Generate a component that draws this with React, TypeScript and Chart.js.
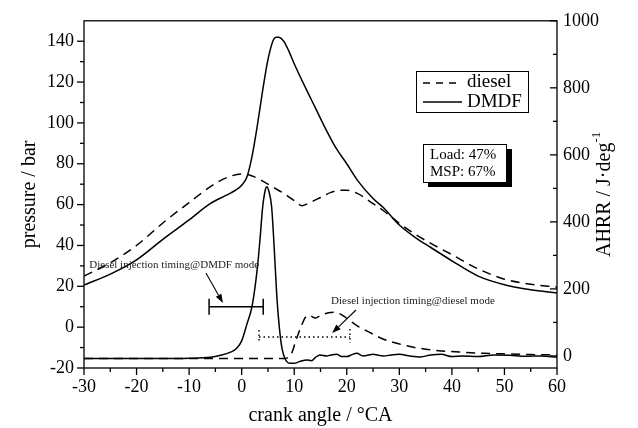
import React, { useEffect, useRef } from "react";
import { Chart, registerables } from "chart.js";

Chart.register(...registerables);

const SERIF = "'Liberation Serif', 'Times New Roman', serif";

// ---- tick labels ----
const xTicks = [-30, -20, -10, 0, 10, 20, 30, 40, 50, 60];
const pressureTicks = [-20, 0, 20, 40, 60, 80, 100, 120, 140];
const ahrrTicks = [0, 200, 400, 600, 800, 1000];

// ---- series labels ----
const seriesLabels = ["diesel", "DMDF"];
const conditionLines = ["Load: 47%", "MSP: 67%"];

// ---- cylinder pressure (bar) ----
const dieselPressureCA = [-30, -25, -20, -15, -10, -5, -2, 0, 2, 4, 6, 8, 10, 11.5, 13, 15, 17, 19, 20, 22, 25, 27, 30, 33, 36, 40, 45, 50, 55, 60];
const dieselPressure = [25, 31.5, 40, 51, 61, 70.4, 74, 75, 74, 71.5, 68.5, 65.5, 62, 59.5, 61, 63.5, 66, 67, 67, 65.5, 60.5, 57, 50.8, 45.5, 41, 35.5, 28.5, 23.5, 21, 19.6];

const dmdfPressureCA = [-30, -25, -20, -15, -10, -6, -3, -1, 0, 1, 2, 3, 4, 5, 6, 6.5, 7, 8, 9, 10, 12, 14, 16, 18, 20, 22, 25, 27, 30, 33, 36, 40, 45, 50, 55, 60];
const dmdfPressure = [20.6, 26, 33, 43, 52.5, 60.5, 64.5, 67.3, 69.5, 73.5, 84, 99, 116, 131, 140.5, 142, 142, 140, 135, 129, 118, 107.5, 97, 87.5, 80, 72, 63, 58.5, 50, 44, 39, 32.5, 25, 20.8, 18.3, 16.7];

// ---- apparent heat release rate (J/deg) ----
const dieselAhrrCA = [-30, -20, -10, 0, 5, 8, 8.7, 9.5, 10.2, 10.8, 11.5, 12, 12.6, 13.3, 14, 14.7, 15.5, 16.5, 17.5, 18.5, 19.5, 20.5, 22, 23.5, 25, 27, 29, 32, 35, 38, 42, 46, 50, 55, 60];
const dieselAhrr = [-8, -8, -8, -8, -8, -8, -6, 8, 40, 67, 95, 112, 121, 118, 113, 118, 124, 129, 130, 127, 118, 106, 90, 77, 65, 50, 40, 28, 20, 15, 11, 8, 6, 4, 3];

const dmdfAhrrCA = [-30, -25, -20, -15, -10, -6, -4, -2, -1, 0, 1, 2, 3, 3.5, 4, 4.5, 4.8, 5.2, 5.7, 6.2, 6.7, 7.2, 7.7, 8.3, 9.2, 10, 11, 12.4, 13.3, 14, 14.9, 16.2, 17, 18.1, 19, 20, 21, 21.9, 23.1, 24, 25, 26, 27, 28.5, 30, 32, 34, 36, 38, 40, 42, 45, 48, 51, 54, 57, 60];
const dmdfAhrr = [-8, -8, -8, -8, -7, -4, 2, 12, 22, 45, 95, 150, 265, 350, 445, 495, 505, 490, 445, 320, 175, 80, 20, -10, -22, -22, -17, -12, -14, -5, 3, 0, 3, 5, -2, -2, 4, 8, 0, 2, 5, 2, 0, 3, 5, 0, -3, 3, 5, -2, 0, -2, 3, 2, -1, 0, -4];

// ---- injection timing annotations (crank angle, pressure level) ----
const annotationTexts = ["Diesel injection timing@DMDF mode", "Diesel injection timing@diesel mode"];
const dmdfInjection = [-6.2, 4.1];
const dmdfInjectionLevel = 10;
const dieselInjection = [3.3, 20.6];
const dieselInjectionLevel = -4.8;
const annotationTextAnchors = [[-29.0, 30.4], [17.0, 12.8]];
const arrowStarts = [[-6.8, 26.5], [21.75, 8.4]];
const arrowEnds = [[-3.55, 11.8], [17.2, -2.9]];

function toPoints(xs: number[], ys: number[]) {
  return xs.map((x, i) => ({ x, y: ys[i] }));
}

function line(ctx: CanvasRenderingContext2D, x1: number, y1: number, x2: number, y2: number) {
  ctx.beginPath();
  ctx.moveTo(x1, y1);
  ctx.lineTo(x2, y2);
  ctx.stroke();
}

function arrow(ctx: CanvasRenderingContext2D, x1: number, y1: number, x2: number, y2: number) {
  const ang = Math.atan2(y2 - y1, x2 - x1);
  const hl = 9, hw = 3.2;
  const bx = x2 - hl * Math.cos(ang), by = y2 - hl * Math.sin(ang);
  line(ctx, x1, y1, bx, by);
  ctx.beginPath();
  ctx.moveTo(x2, y2);
  ctx.lineTo(bx + hw * Math.sin(ang), by - hw * Math.cos(ang));
  ctx.lineTo(bx - hw * Math.sin(ang), by + hw * Math.cos(ang));
  ctx.closePath();
  ctx.fill();
}

const overlayPlugin = {
  id: "overlay",
  afterDraw(chart: any) {
    const ctx: CanvasRenderingContext2D = chart.ctx;
    const a = chart.chartArea;
    const sx = chart.scales.x, sy = chart.scales.y, sy1 = chart.scales.y1;
    ctx.save();
    ctx.strokeStyle = "#000";
    ctx.fillStyle = "#000";
    ctx.lineWidth = 1.3;
    ctx.setLineDash([]);
    ctx.strokeRect(a.left, a.top, a.right - a.left, a.bottom - a.top);

    // x ticks (outward)
    for (let v = sx.min; v <= sx.max; v += 5) {
      const px = sx.getPixelForValue(v);
      const len = v % 10 === 0 ? 7 : 4;
      line(ctx, px, a.bottom, px, a.bottom + len);
    }
    // left ticks (outward)
    for (let v = sy.min; v < sy.max; v += 10) {
      const py = sy.getPixelForValue(v);
      const len = v % 20 === 0 ? 7 : 4;
      line(ctx, a.left - len, py, a.left, py);
    }
    // right ticks (inward)
    for (let v = 0; v <= sy1.max; v += 100) {
      const py = sy1.getPixelForValue(v);
      const len = v % 200 === 0 ? 7 : 4;
      line(ctx, a.right - len, py, a.right, py);
    }

    // right axis title, rotated, with superscript
    ctx.save();
    ctx.translate(605, (a.top + a.bottom) / 2);
    ctx.rotate(-Math.PI / 2);
    const main = "AHRR / J·deg";
    const sup = "-1";
    ctx.font = `20px ${SERIF}`;
    const wMain = ctx.measureText(main).width;
    ctx.font = `13px ${SERIF}`;
    const wSup = ctx.measureText(sup).width;
    const start = -(wMain + wSup) / 2;
    ctx.textBaseline = "middle";
    ctx.textAlign = "left";
    ctx.font = `20px ${SERIF}`;
    ctx.fillText(main, start, 0);
    ctx.font = `13px ${SERIF}`;
    ctx.fillText(sup, start + wMain, -8);
    ctx.restore();

    // legend
    const ds = chart.data.datasets;
    ctx.lineWidth = 1;
    ctx.strokeRect(416.5, 71.5, 112, 41);
    ctx.font = `19px ${SERIF}`;
    ctx.textBaseline = "middle";
    ctx.textAlign = "left";
    ctx.lineWidth = 1.4;
    ctx.setLineDash([7, 6]);
    line(ctx, 423, 83, 458, 83);
    ctx.setLineDash([]);
    line(ctx, 423, 102, 462, 102);
    ctx.fillText(ds[0].label, 467, 82);
    ctx.fillText(ds[1].label, 467, 102);

    // condition box with shadow
    ctx.fillStyle = "#000";
    ctx.fillRect(428, 149, 84, 38);
    ctx.fillStyle = "#fff";
    ctx.fillRect(423, 144, 83, 38);
    ctx.lineWidth = 1;
    ctx.strokeRect(423.5, 144.5, 83, 38);
    ctx.fillStyle = "#000";
    ctx.font = `15px ${SERIF}`;
    ctx.fillText(conditionLines[0], 430, 155);
    ctx.fillText(conditionLines[1], 430, 172);

    // injection timing annotations
    ctx.font = `11px ${SERIF}`;
    ctx.fillStyle = "#222";
    annotationTexts.forEach((t, i) => {
      ctx.fillText(t, sx.getPixelForValue(annotationTextAnchors[i][0]), sy.getPixelForValue(annotationTextAnchors[i][1]));
    });
    ctx.fillStyle = "#000";
    ctx.lineWidth = 1.1;
    arrowStarts.forEach((s, i) => {
      arrow(ctx, sx.getPixelForValue(s[0]), sy.getPixelForValue(s[1]),
        sx.getPixelForValue(arrowEnds[i][0]), sy.getPixelForValue(arrowEnds[i][1]));
    });

    // DMDF injection bar (solid, capped)
    ctx.lineWidth = 1.5;
    const y1 = sy.getPixelForValue(dmdfInjectionLevel);
    const xa = sx.getPixelForValue(dmdfInjection[0]);
    const xb = sx.getPixelForValue(dmdfInjection[1]);
    line(ctx, xa, y1, xb, y1);
    line(ctx, xa, y1 - 8, xa, y1 + 8);
    line(ctx, xb, y1 - 8, xb, y1 + 8);

    // diesel injection bar (dotted, capped)
    ctx.lineWidth = 1.4;
    ctx.setLineDash([1.5, 3]);
    const y2 = sy.getPixelForValue(dieselInjectionLevel);
    const xc = sx.getPixelForValue(dieselInjection[0]);
    const xd = sx.getPixelForValue(dieselInjection[1]);
    line(ctx, xc, y2, xd, y2);
    line(ctx, xc, y2 - 7, xc, y2 + 6);
    line(ctx, xd, y2 - 8, xd, y2 + 6);
    ctx.setLineDash([]);
    ctx.restore();
  },
};

export default function App() {
  const ref = useRef<HTMLCanvasElement | null>(null);

  useEffect(() => {
    if (!ref.current) return;
    const dashed = [9, 6];
    const common = {
      borderColor: "#000",
      backgroundColor: "#000",
      borderWidth: 1.5,
      pointRadius: 0,
      fill: false,
      cubicInterpolationMode: "monotone" as const,
    };
    const plain = (v: any) => String(v);
    const chart = new Chart(ref.current, {
      type: "line",
      data: {
        datasets: [
          { ...common, label: seriesLabels[0], data: toPoints(dieselPressureCA, dieselPressure), borderDash: dashed, yAxisID: "y" },
          { ...common, label: seriesLabels[1], data: toPoints(dmdfPressureCA, dmdfPressure), yAxisID: "y" },
          { ...common, label: seriesLabels[0] + " AHRR", data: toPoints(dieselAhrrCA, dieselAhrr), borderDash: dashed, yAxisID: "y1" },
          { ...common, label: seriesLabels[1] + " AHRR", data: toPoints(dmdfAhrrCA, dmdfAhrr), yAxisID: "y1" },
        ],
      },
      options: {
        animation: false,
        responsive: false,
        layout: { padding: { top: 20, left: 0, right: 0, bottom: 0 } },
        plugins: { legend: { display: false }, tooltip: { enabled: false } },
        scales: {
          x: {
            type: "linear",
            min: -30,
            max: 60,
            grid: { display: false, drawTicks: false },
            border: { display: false },
            afterBuildTicks: (s: any) => { s.ticks = xTicks.map((v) => ({ value: v })); },
            afterFit: (s: any) => { s.height = 60; },
            ticks: { color: "#000", padding: 8, font: { family: SERIF, size: 18 }, maxRotation: 0, autoSkip: false, callback: plain },
            title: { display: true, text: "crank angle / °CA", color: "#000", font: { family: SERIF, size: 20 }, padding: { top: 0, bottom: 0 } },
          },
          y: {
            type: "linear",
            position: "left",
            min: -20,
            max: 150,
            grid: { display: false, drawTicks: false },
            border: { display: false },
            afterBuildTicks: (s: any) => { s.ticks = pressureTicks.map((v) => ({ value: v })); },
            afterFit: (s: any) => { s.width = 84; },
            ticks: { color: "#000", padding: 10, font: { family: SERIF, size: 18 }, autoSkip: false, callback: plain },
            title: { display: true, text: "pressure / bar", color: "#000", font: { family: SERIF, size: 20 }, padding: { top: 18, bottom: 0 } },
          },
          y1: {
            type: "linear",
            position: "right",
            min: -36,
            max: 1000,
            grid: { display: false, drawTicks: false },
            border: { display: false },
            afterBuildTicks: (s: any) => { s.ticks = ahrrTicks.map((v) => ({ value: v })); },
            afterFit: (s: any) => { s.width = 81; },
            ticks: { color: "#000", padding: 6, font: { family: SERIF, size: 18 }, autoSkip: false, callback: plain },
          },
        },
      },
      plugins: [overlayPlugin],
    });
    return () => chart.destroy();
  }, []);

  return (
    <div style={{ position: "fixed", left: 0, top: 0, width: 638, height: 428, background: "#fff" }}>
      <canvas ref={ref} width={638} height={428} style={{ display: "block" }} />
    </div>
  );
}
